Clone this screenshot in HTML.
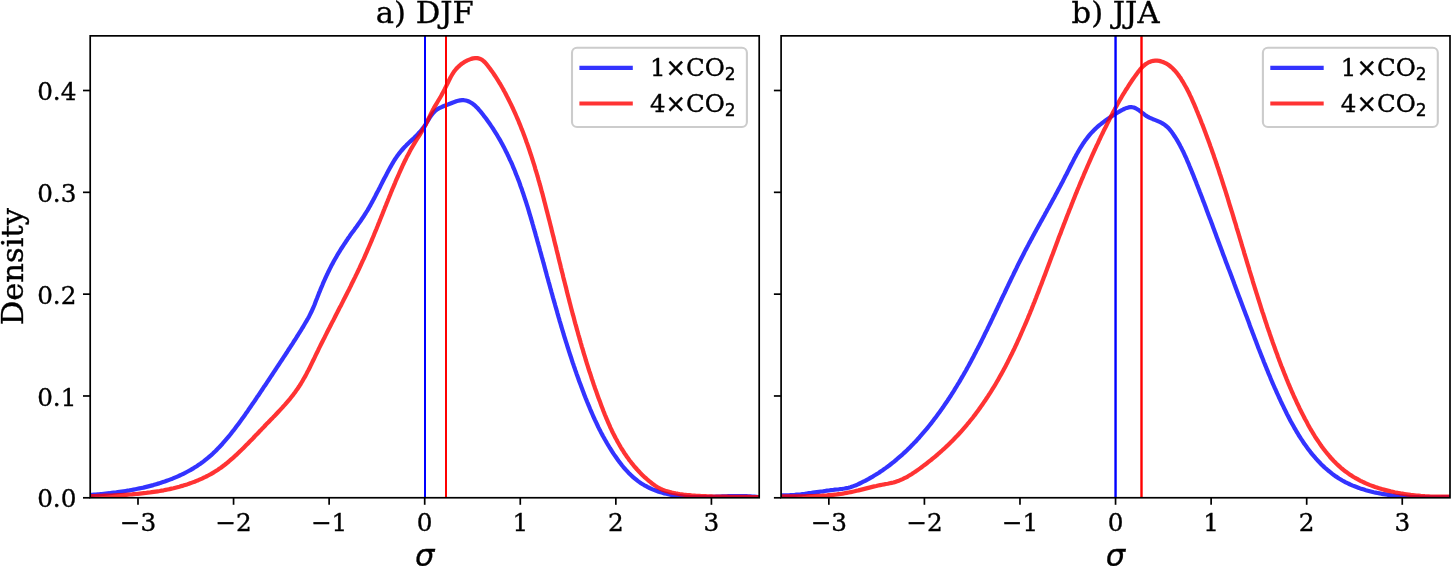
<!DOCTYPE html>
<html lang="en"><head><meta charset="utf-8"><title>Density of sigma, DJF and JJA</title>
<style>
html,body{margin:0;padding:0;background:#fff;}
body{width:1451px;height:566px;overflow:hidden;}
svg{display:block;}
text{font-family:'DejaVu Serif', 'Liberation Serif', serif;fill:#000;stroke:#000;stroke-width:0.35px;}
.tk{font-size:24.7px;}
.lg{font-size:24.5px;}
.ti{font-size:30.6px;}
.sn{font-family:'DejaVu Sans', 'Liberation Sans', sans-serif;}
</style></head><body>
<svg width="1451" height="566" viewBox="0 0 1451 566">
<rect width="1451" height="566" fill="#fff"/>
<g>
<clipPath id="c0"><rect x="90.2" y="35.85" width="669.0" height="461.95"/></clipPath>
<g clip-path="url(#c0)" fill="none" stroke-linejoin="round" stroke-linecap="square">
<path d="M90.2 494.9 L92.1 494.8 L94.0 494.6 L95.9 494.5 L97.9 494.3 L99.8 494.2 L101.8 494.0 L103.7 493.8 L105.7 493.6 L107.7 493.4 L109.7 493.2 L111.6 492.9 L113.6 492.7 L115.6 492.5 L117.6 492.2 L119.6 491.9 L121.6 491.6 L123.6 491.3 L125.6 491.0 L127.6 490.7 L129.5 490.4 L131.5 490.0 L133.5 489.6 L135.5 489.2 L137.5 488.8 L139.5 488.4 L141.5 488.0 L143.5 487.6 L145.4 487.1 L147.4 486.6 L149.4 486.1 L151.3 485.6 L153.3 485.1 L155.2 484.5 L157.2 483.9 L159.1 483.4 L161.0 482.7 L162.9 482.1 L164.8 481.5 L166.7 480.8 L168.6 480.1 L170.5 479.4 L172.4 478.7 L174.2 477.9 L176.1 477.1 L177.9 476.3 L179.7 475.5 L181.5 474.7 L183.3 473.8 L185.1 472.9 L186.8 472.0 L188.6 471.0 L190.3 470.1 L192.0 469.1 L193.7 468.1 L195.4 467.0 L197.1 465.9 L198.7 464.8 L200.4 463.7 L202.0 462.6 L203.6 461.4 L205.1 460.2 L206.7 458.9 L208.2 457.7 L209.7 456.4 L211.2 455.1 L212.7 453.7 L214.1 452.3 L215.6 451.0 L217.0 449.5 L218.4 448.1 L219.7 446.7 L221.1 445.2 L222.5 443.7 L223.8 442.2 L225.1 440.7 L226.4 439.1 L227.7 437.6 L229.0 436.1 L230.3 434.5 L231.5 432.9 L232.7 431.3 L234.0 429.8 L235.2 428.2 L236.4 426.6 L237.6 425.0 L238.8 423.4 L240.0 421.8 L241.2 420.1 L242.3 418.5 L243.5 416.9 L244.7 415.3 L245.8 413.6 L247.0 412.0 L248.1 410.4 L249.2 408.7 L250.4 407.1 L251.5 405.4 L252.6 403.8 L253.8 402.1 L254.9 400.5 L256.0 398.8 L257.1 397.1 L258.3 395.5 L259.4 393.8 L260.5 392.1 L261.6 390.5 L262.7 388.8 L263.8 387.1 L265.0 385.5 L266.1 383.8 L267.2 382.1 L268.3 380.5 L269.4 378.8 L270.5 377.1 L271.6 375.5 L272.7 373.8 L273.8 372.1 L274.9 370.5 L276.0 368.8 L277.1 367.1 L278.2 365.5 L279.3 363.8 L280.4 362.1 L281.5 360.5 L282.6 358.8 L283.7 357.1 L284.8 355.5 L285.9 353.8 L287.0 352.2 L288.0 350.5 L289.1 348.8 L290.2 347.2 L291.3 345.5 L292.4 343.9 L293.4 342.2 L294.5 340.5 L295.6 338.9 L296.6 337.2 L297.7 335.5 L298.7 333.8 L299.8 332.1 L300.9 330.4 L301.9 328.7 L303.0 327.0 L304.0 325.2 L305.0 323.5 L306.1 321.7 L307.1 319.9 L308.1 318.2 L309.1 316.4 L310.0 314.6 L310.9 312.8 L311.8 311.0 L312.6 309.1 L313.4 307.3 L314.2 305.5 L314.9 303.7 L315.6 301.8 L316.3 300.0 L317.1 298.1 L317.8 296.3 L318.5 294.5 L319.2 292.6 L320.0 290.8 L320.7 288.9 L321.5 287.1 L322.3 285.2 L323.0 283.4 L323.8 281.6 L324.7 279.7 L325.5 277.9 L326.3 276.1 L327.2 274.3 L328.0 272.5 L328.9 270.7 L329.8 268.9 L330.7 267.1 L331.6 265.3 L332.6 263.6 L333.5 261.8 L334.5 260.0 L335.5 258.3 L336.5 256.6 L337.5 254.8 L338.5 253.1 L339.6 251.4 L340.6 249.7 L341.7 248.0 L342.8 246.3 L343.9 244.6 L345.0 243.0 L346.1 241.3 L347.2 239.7 L348.3 238.0 L349.5 236.4 L350.6 234.7 L351.8 233.1 L353.0 231.5 L354.2 229.9 L355.3 228.3 L356.5 226.7 L357.7 225.0 L358.8 223.4 L360.0 221.8 L361.1 220.2 L362.2 218.5 L363.4 216.8 L364.4 215.2 L365.5 213.5 L366.5 211.8 L367.6 210.1 L368.6 208.4 L369.6 206.6 L370.6 204.9 L371.5 203.1 L372.5 201.4 L373.4 199.6 L374.4 197.9 L375.3 196.1 L376.2 194.3 L377.1 192.5 L378.1 190.7 L379.0 188.9 L379.9 187.2 L380.8 185.4 L381.7 183.6 L382.6 181.8 L383.5 180.0 L384.4 178.2 L385.4 176.4 L386.3 174.7 L387.2 172.9 L388.2 171.1 L389.1 169.4 L390.1 167.6 L391.1 165.9 L392.1 164.1 L393.1 162.4 L394.1 160.7 L395.2 159.0 L396.3 157.4 L397.4 155.8 L398.6 154.1 L399.8 152.6 L401.1 151.0 L402.4 149.5 L403.7 148.0 L405.1 146.6 L406.5 145.1 L407.9 143.7 L409.4 142.3 L410.9 140.9 L412.3 139.6 L413.8 138.2 L415.2 136.8 L416.6 135.4 L418.0 134.0 L419.3 132.5 L420.6 131.1 L421.9 129.5 L423.2 128.0 L424.3 126.3 L425.5 124.7 L426.5 122.9 L427.6 121.2 L428.7 119.4 L429.7 117.7 L430.8 116.0 L432.0 114.4 L433.2 112.9 L434.6 111.5 L436.0 110.2 L437.6 109.1 L439.2 108.2 L441.0 107.3 L442.8 106.5 L444.7 105.7 L446.6 105.0 L448.5 104.3 L450.5 103.5 L452.4 102.7 L454.4 102.0 L456.3 101.3 L458.2 100.8 L460.1 100.4 L462.1 100.2 L464.0 100.2 L465.8 100.5 L467.6 101.0 L469.4 101.7 L471.1 102.7 L472.8 103.8 L474.3 105.0 L475.8 106.4 L477.2 107.8 L478.6 109.3 L479.9 110.8 L481.2 112.4 L482.5 114.0 L483.7 115.6 L485.0 117.2 L486.2 118.8 L487.4 120.5 L488.5 122.1 L489.7 123.7 L490.8 125.4 L492.0 127.1 L493.1 128.7 L494.1 130.4 L495.2 132.1 L496.3 133.8 L497.3 135.5 L498.3 137.2 L499.3 138.9 L500.3 140.6 L501.3 142.4 L502.2 144.1 L503.2 145.9 L504.1 147.6 L505.0 149.4 L505.9 151.2 L506.8 152.9 L507.6 154.7 L508.5 156.5 L509.3 158.3 L510.1 160.1 L511.0 161.9 L511.8 163.7 L512.6 165.5 L513.3 167.4 L514.1 169.2 L514.9 171.0 L515.6 172.9 L516.3 174.7 L517.1 176.6 L517.8 178.4 L518.5 180.3 L519.2 182.1 L519.9 184.0 L520.5 185.9 L521.2 187.8 L521.9 189.6 L522.5 191.5 L523.2 193.4 L523.8 195.3 L524.4 197.2 L525.0 199.1 L525.7 201.0 L526.3 202.9 L526.9 204.8 L527.5 206.7 L528.1 208.6 L528.7 210.6 L529.2 212.5 L529.8 214.4 L530.4 216.3 L530.9 218.2 L531.5 220.2 L532.1 222.1 L532.6 224.0 L533.2 226.0 L533.7 227.9 L534.3 229.8 L534.8 231.7 L535.4 233.7 L535.9 235.6 L536.5 237.6 L537.0 239.5 L537.5 241.4 L538.1 243.4 L538.6 245.3 L539.2 247.2 L539.7 249.2 L540.2 251.1 L540.8 253.1 L541.3 255.0 L541.8 256.9 L542.4 258.9 L542.9 260.8 L543.4 262.7 L544.0 264.7 L544.5 266.6 L545.0 268.6 L545.5 270.5 L546.1 272.4 L546.6 274.4 L547.1 276.3 L547.7 278.3 L548.2 280.2 L548.7 282.1 L549.3 284.1 L549.8 286.0 L550.3 287.9 L550.9 289.9 L551.4 291.8 L552.0 293.8 L552.5 295.7 L553.0 297.6 L553.6 299.6 L554.1 301.5 L554.7 303.4 L555.2 305.3 L555.8 307.3 L556.3 309.2 L556.9 311.1 L557.4 313.1 L558.0 315.0 L558.5 316.9 L559.1 318.8 L559.6 320.8 L560.2 322.7 L560.8 324.6 L561.3 326.5 L561.9 328.4 L562.5 330.3 L563.1 332.3 L563.6 334.2 L564.2 336.1 L564.8 338.0 L565.4 339.9 L566.0 341.8 L566.6 343.7 L567.2 345.6 L567.8 347.5 L568.4 349.4 L569.0 351.3 L569.6 353.2 L570.2 355.1 L570.9 357.0 L571.5 358.9 L572.1 360.8 L572.7 362.7 L573.4 364.6 L574.0 366.4 L574.7 368.3 L575.3 370.2 L576.0 372.1 L576.6 373.9 L577.3 375.8 L578.0 377.7 L578.6 379.6 L579.3 381.4 L580.0 383.3 L580.7 385.1 L581.4 387.0 L582.1 388.8 L582.8 390.7 L583.5 392.5 L584.2 394.4 L584.9 396.2 L585.6 398.1 L586.4 399.9 L587.1 401.7 L587.9 403.6 L588.6 405.4 L589.4 407.2 L590.1 409.0 L590.9 410.9 L591.7 412.7 L592.5 414.5 L593.3 416.3 L594.1 418.1 L594.9 419.9 L595.8 421.7 L596.6 423.5 L597.5 425.3 L598.3 427.1 L599.2 428.9 L600.1 430.6 L601.0 432.4 L602.0 434.2 L602.9 436.0 L603.9 437.7 L604.9 439.5 L605.9 441.2 L606.9 443.0 L607.9 444.7 L609.0 446.5 L610.0 448.2 L611.1 449.9 L612.2 451.7 L613.3 453.4 L614.5 455.1 L615.7 456.8 L616.9 458.5 L618.1 460.2 L619.3 461.9 L620.6 463.5 L621.9 465.2 L623.2 466.8 L624.5 468.3 L625.9 469.9 L627.3 471.4 L628.7 472.9 L630.1 474.3 L631.6 475.7 L633.1 477.1 L634.6 478.4 L636.2 479.7 L637.7 480.9 L639.4 482.1 L641.0 483.2 L642.7 484.3 L644.4 485.3 L646.1 486.2 L647.8 487.1 L649.6 488.0 L651.4 488.8 L653.2 489.6 L655.0 490.3 L656.9 491.0 L658.7 491.7 L660.6 492.3 L662.5 492.8 L664.4 493.4 L666.4 493.8 L668.3 494.3 L670.3 494.7 L672.2 495.1 L674.2 495.4 L676.2 495.7 L678.1 496.0 L680.1 496.2 L682.1 496.4 L684.1 496.6 L686.1 496.8 L688.1 496.9 L690.1 497.0 L692.1 497.1 L694.2 497.1 L696.2 497.1 L698.2 497.2 L700.2 497.1 L702.2 497.1 L704.2 497.1 L706.2 497.0 L708.2 497.0 L710.3 496.9 L712.3 496.9 L714.3 496.8 L716.3 496.7 L718.3 496.6 L720.3 496.5 L722.4 496.4 L724.4 496.4 L726.4 496.3 L728.4 496.2 L730.4 496.2 L732.4 496.1 L734.4 496.1 L736.4 496.0 L738.4 496.0 L740.4 496.0 L742.4 496.1 L744.4 496.1 L746.4 496.2 L748.4 496.3 L750.4 496.4 L752.3 496.5 L754.3 496.7 L756.3 496.9 L758.2 497.1 L759.0 497.2" stroke="#0000ff" stroke-opacity="0.8" stroke-width="4.2"/>
<path d="M90.0 496.1 L92.0 496.1 L94.0 496.0 L96.0 496.0 L98.0 495.9 L100.0 495.9 L102.1 495.8 L104.1 495.7 L106.1 495.7 L108.1 495.6 L110.1 495.6 L112.0 495.5 L114.0 495.4 L116.0 495.3 L118.0 495.2 L120.0 495.1 L122.0 495.0 L124.0 494.9 L126.0 494.8 L128.0 494.6 L129.9 494.5 L131.9 494.4 L133.9 494.2 L135.9 494.0 L137.9 493.8 L139.9 493.6 L141.8 493.4 L143.8 493.2 L145.8 493.0 L147.8 492.7 L149.8 492.5 L151.8 492.2 L153.7 491.9 L155.7 491.6 L157.7 491.3 L159.7 491.0 L161.7 490.6 L163.7 490.3 L165.6 489.9 L167.6 489.5 L169.6 489.1 L171.5 488.6 L173.5 488.2 L175.5 487.7 L177.4 487.2 L179.4 486.7 L181.3 486.1 L183.2 485.6 L185.1 485.0 L187.1 484.4 L189.0 483.7 L190.8 483.1 L192.7 482.4 L194.6 481.7 L196.5 480.9 L198.3 480.2 L200.1 479.4 L202.0 478.6 L203.8 477.7 L205.5 476.9 L207.3 476.0 L209.1 475.0 L210.8 474.1 L212.5 473.1 L214.2 472.1 L215.9 471.0 L217.6 469.9 L219.2 468.8 L220.9 467.7 L222.5 466.5 L224.1 465.3 L225.7 464.0 L227.2 462.8 L228.8 461.5 L230.3 460.2 L231.8 458.9 L233.3 457.6 L234.8 456.2 L236.3 454.9 L237.7 453.5 L239.2 452.1 L240.6 450.7 L242.1 449.3 L243.5 447.9 L244.9 446.5 L246.3 445.1 L247.7 443.7 L249.1 442.2 L250.5 440.8 L251.9 439.4 L253.3 438.0 L254.6 436.5 L256.0 435.1 L257.4 433.7 L258.8 432.2 L260.1 430.8 L261.5 429.4 L262.9 427.9 L264.3 426.5 L265.6 425.0 L267.0 423.6 L268.4 422.2 L269.8 420.7 L271.2 419.3 L272.6 417.9 L274.0 416.4 L275.4 415.0 L276.8 413.5 L278.2 412.0 L279.5 410.6 L280.9 409.1 L282.3 407.6 L283.6 406.1 L285.0 404.6 L286.3 403.1 L287.6 401.6 L288.9 400.1 L290.2 398.6 L291.4 397.0 L292.7 395.4 L293.9 393.8 L295.1 392.2 L296.2 390.6 L297.4 389.0 L298.5 387.3 L299.6 385.7 L300.7 384.0 L301.7 382.3 L302.7 380.6 L303.7 378.8 L304.7 377.1 L305.7 375.4 L306.6 373.6 L307.5 371.8 L308.5 370.0 L309.4 368.2 L310.3 366.5 L311.1 364.7 L312.0 362.9 L312.9 361.0 L313.8 359.2 L314.7 357.4 L315.5 355.6 L316.4 353.8 L317.3 352.0 L318.2 350.2 L319.0 348.4 L319.9 346.6 L320.8 344.8 L321.7 343.0 L322.6 341.2 L323.5 339.4 L324.4 337.7 L325.3 335.9 L326.2 334.1 L327.1 332.3 L328.0 330.5 L328.9 328.7 L329.8 327.0 L330.7 325.2 L331.6 323.4 L332.6 321.6 L333.5 319.9 L334.4 318.1 L335.3 316.3 L336.2 314.5 L337.1 312.8 L338.0 311.0 L338.9 309.2 L339.8 307.4 L340.8 305.7 L341.7 303.9 L342.6 302.1 L343.5 300.3 L344.4 298.6 L345.3 296.8 L346.2 295.0 L347.1 293.2 L348.0 291.4 L348.9 289.7 L349.8 287.9 L350.7 286.1 L351.5 284.3 L352.4 282.5 L353.3 280.7 L354.2 278.9 L355.1 277.1 L355.9 275.4 L356.8 273.6 L357.7 271.8 L358.5 270.0 L359.4 268.1 L360.2 266.3 L361.1 264.5 L361.9 262.7 L362.7 260.9 L363.6 259.1 L364.4 257.3 L365.2 255.4 L366.0 253.6 L366.8 251.8 L367.6 249.9 L368.4 248.1 L369.2 246.2 L370.0 244.4 L370.8 242.5 L371.6 240.7 L372.3 238.8 L373.1 237.0 L373.9 235.1 L374.6 233.3 L375.4 231.4 L376.2 229.5 L376.9 227.7 L377.7 225.8 L378.4 223.9 L379.2 222.1 L379.9 220.2 L380.7 218.3 L381.4 216.5 L382.2 214.6 L382.9 212.7 L383.6 210.9 L384.4 209.0 L385.1 207.1 L385.9 205.3 L386.6 203.4 L387.4 201.6 L388.1 199.7 L388.9 197.8 L389.6 196.0 L390.4 194.1 L391.1 192.3 L391.9 190.4 L392.6 188.6 L393.4 186.8 L394.2 184.9 L395.0 183.1 L395.7 181.3 L396.5 179.4 L397.3 177.6 L398.1 175.8 L398.9 174.0 L399.7 172.2 L400.5 170.4 L401.3 168.6 L402.1 166.8 L402.9 165.0 L403.8 163.2 L404.6 161.5 L405.5 159.7 L406.4 157.9 L407.2 156.2 L408.2 154.4 L409.1 152.7 L410.0 150.9 L411.0 149.1 L412.0 147.4 L413.0 145.7 L414.1 143.9 L415.1 142.2 L416.2 140.4 L417.3 138.7 L418.5 136.9 L419.6 135.2 L420.6 133.5 L421.7 131.7 L422.7 130.0 L423.7 128.2 L424.7 126.5 L425.6 124.8 L426.4 123.0 L427.3 121.3 L428.1 119.5 L429.0 117.8 L429.8 116.1 L430.7 114.3 L431.6 112.6 L432.4 110.8 L433.4 109.1 L434.3 107.3 L435.3 105.6 L436.4 103.8 L437.5 102.0 L438.5 100.3 L439.6 98.5 L440.6 96.8 L441.6 95.0 L442.5 93.2 L443.5 91.4 L444.4 89.7 L445.3 87.9 L446.2 86.1 L447.1 84.3 L448.0 82.5 L448.8 80.8 L449.7 79.0 L450.6 77.2 L451.6 75.5 L452.6 73.8 L453.7 72.1 L454.9 70.5 L456.1 69.0 L457.5 67.5 L459.0 66.1 L460.5 64.7 L462.1 63.5 L463.8 62.4 L465.6 61.3 L467.4 60.4 L469.3 59.6 L471.2 58.9 L473.1 58.4 L475.1 58.2 L477.0 58.1 L478.8 58.4 L480.5 59.0 L482.1 59.9 L483.6 61.1 L485.0 62.4 L486.3 63.9 L487.6 65.5 L488.9 67.2 L490.1 68.8 L491.3 70.5 L492.5 72.1 L493.7 73.8 L494.8 75.5 L495.9 77.2 L497.0 78.9 L498.1 80.6 L499.1 82.3 L500.2 84.0 L501.2 85.7 L502.2 87.5 L503.2 89.2 L504.1 91.0 L505.1 92.7 L506.0 94.5 L506.9 96.3 L507.8 98.0 L508.7 99.8 L509.6 101.6 L510.5 103.4 L511.4 105.2 L512.2 107.0 L513.1 108.8 L513.9 110.6 L514.7 112.4 L515.5 114.2 L516.3 116.0 L517.1 117.9 L517.9 119.7 L518.7 121.5 L519.4 123.4 L520.2 125.2 L520.9 127.0 L521.6 128.9 L522.4 130.8 L523.1 132.6 L523.8 134.5 L524.5 136.3 L525.2 138.2 L525.9 140.1 L526.5 142.0 L527.2 143.8 L527.9 145.7 L528.5 147.6 L529.2 149.5 L529.8 151.4 L530.4 153.3 L531.1 155.2 L531.7 157.1 L532.3 159.0 L532.9 160.9 L533.5 162.8 L534.1 164.7 L534.7 166.6 L535.2 168.6 L535.8 170.5 L536.4 172.4 L537.0 174.3 L537.5 176.2 L538.1 178.2 L538.6 180.1 L539.2 182.0 L539.7 184.0 L540.3 185.9 L540.8 187.8 L541.3 189.8 L541.8 191.7 L542.4 193.6 L542.9 195.6 L543.4 197.5 L543.9 199.4 L544.4 201.4 L544.9 203.3 L545.4 205.3 L545.9 207.2 L546.4 209.2 L546.9 211.1 L547.4 213.1 L547.9 215.0 L548.4 216.9 L548.9 218.9 L549.4 220.8 L549.9 222.8 L550.4 224.7 L550.9 226.7 L551.4 228.6 L551.8 230.6 L552.3 232.5 L552.8 234.5 L553.3 236.4 L553.8 238.3 L554.2 240.3 L554.7 242.2 L555.2 244.2 L555.7 246.1 L556.2 248.1 L556.6 250.0 L557.1 252.0 L557.6 253.9 L558.1 255.8 L558.5 257.8 L559.0 259.7 L559.5 261.7 L560.0 263.6 L560.5 265.6 L560.9 267.5 L561.4 269.4 L561.9 271.4 L562.4 273.3 L562.9 275.3 L563.3 277.2 L563.8 279.1 L564.3 281.1 L564.8 283.0 L565.3 285.0 L565.8 286.9 L566.3 288.8 L566.7 290.8 L567.2 292.7 L567.7 294.6 L568.2 296.6 L568.7 298.5 L569.2 300.4 L569.7 302.4 L570.2 304.3 L570.7 306.2 L571.2 308.2 L571.7 310.1 L572.2 312.0 L572.7 314.0 L573.3 315.9 L573.8 317.8 L574.3 319.7 L574.8 321.7 L575.3 323.6 L575.9 325.5 L576.4 327.4 L576.9 329.4 L577.5 331.3 L578.0 333.2 L578.5 335.1 L579.1 337.0 L579.6 339.0 L580.2 340.9 L580.7 342.8 L581.3 344.7 L581.8 346.6 L582.4 348.5 L583.0 350.4 L583.5 352.4 L584.1 354.3 L584.7 356.2 L585.3 358.1 L585.8 360.0 L586.4 361.9 L587.0 363.8 L587.6 365.7 L588.2 367.6 L588.8 369.5 L589.4 371.4 L590.1 373.3 L590.7 375.2 L591.3 377.1 L591.9 379.0 L592.6 380.9 L593.2 382.8 L593.8 384.7 L594.5 386.6 L595.1 388.5 L595.8 390.3 L596.5 392.2 L597.1 394.1 L597.8 396.0 L598.5 397.9 L599.2 399.8 L599.9 401.6 L600.6 403.5 L601.3 405.4 L602.0 407.3 L602.7 409.1 L603.4 411.0 L604.2 412.9 L604.9 414.7 L605.7 416.6 L606.4 418.4 L607.2 420.2 L608.0 422.1 L608.8 423.9 L609.6 425.7 L610.4 427.6 L611.3 429.4 L612.1 431.2 L613.0 433.0 L613.9 434.7 L614.8 436.5 L615.7 438.3 L616.7 440.0 L617.6 441.8 L618.6 443.5 L619.6 445.2 L620.6 447.0 L621.6 448.7 L622.7 450.3 L623.7 452.0 L624.8 453.7 L626.0 455.3 L627.1 457.0 L628.3 458.6 L629.4 460.2 L630.7 461.8 L631.9 463.4 L633.2 464.9 L634.4 466.5 L635.8 468.0 L637.1 469.5 L638.5 471.0 L639.9 472.5 L641.3 473.9 L642.8 475.4 L644.2 476.8 L645.8 478.2 L647.3 479.5 L648.9 480.9 L650.5 482.2 L652.1 483.5 L653.8 484.7 L655.5 485.9 L657.2 487.0 L659.0 488.0 L660.7 488.9 L662.5 489.7 L664.3 490.4 L666.2 491.1 L668.0 491.6 L669.9 492.1 L671.8 492.6 L673.7 493.0 L675.6 493.4 L677.6 493.7 L679.5 494.1 L681.5 494.3 L683.4 494.6 L685.4 494.8 L687.4 495.0 L689.4 495.2 L691.4 495.4 L693.4 495.5 L695.4 495.7 L697.4 495.8 L699.4 495.9 L701.5 496.0 L703.5 496.1 L705.5 496.2 L707.5 496.3 L709.5 496.4 L711.6 496.4 L713.6 496.5 L715.6 496.5 L717.6 496.6 L719.7 496.6 L721.7 496.6 L723.7 496.7 L725.7 496.7 L727.8 496.7 L729.8 496.8 L731.8 496.8 L733.8 496.8 L735.8 496.8 L737.8 496.8 L739.8 496.8 L741.8 496.8 L743.8 496.9 L745.8 496.9 L747.8 496.9 L749.8 496.9 L751.7 497.0 L753.7 497.0 L755.7 497.0 L757.6 497.1 L759.0 497.1" stroke="#ff0000" stroke-opacity="0.8" stroke-width="4.2"/>
<line x1="425.0" x2="425.0" y1="35.85" y2="497.8" stroke="#0000ff" stroke-width="2.0"/>
<line x1="446.00" x2="446.00" y1="35.85" y2="497.8" stroke="#ff0000" stroke-width="2.0"/>
</g>
<line x1="137.99" x2="137.99" y1="497.8" y2="504.8" stroke="#000" stroke-width="1.7"/>
<text class="tk" x="137.99" y="530.8" text-anchor="middle">−3</text>
<line x1="233.56" x2="233.56" y1="497.8" y2="504.8" stroke="#000" stroke-width="1.7"/>
<text class="tk" x="233.56" y="530.8" text-anchor="middle">−2</text>
<line x1="329.13" x2="329.13" y1="497.8" y2="504.8" stroke="#000" stroke-width="1.7"/>
<text class="tk" x="329.13" y="530.8" text-anchor="middle">−1</text>
<line x1="424.70" x2="424.70" y1="497.8" y2="504.8" stroke="#000" stroke-width="1.7"/>
<text class="tk" x="424.70" y="530.8" text-anchor="middle">0</text>
<line x1="520.27" x2="520.27" y1="497.8" y2="504.8" stroke="#000" stroke-width="1.7"/>
<text class="tk" x="520.27" y="530.8" text-anchor="middle">1</text>
<line x1="615.84" x2="615.84" y1="497.8" y2="504.8" stroke="#000" stroke-width="1.7"/>
<text class="tk" x="615.84" y="530.8" text-anchor="middle">2</text>
<line x1="711.41" x2="711.41" y1="497.8" y2="504.8" stroke="#000" stroke-width="1.7"/>
<text class="tk" x="711.41" y="530.8" text-anchor="middle">3</text>
<line x1="83.0" x2="90.2" y1="497.80" y2="497.80" stroke="#000" stroke-width="1.7"/>
<text class="tk" x="76.4" y="507.40" text-anchor="end">0.0</text>
<line x1="83.0" x2="90.2" y1="395.98" y2="395.98" stroke="#000" stroke-width="1.7"/>
<text class="tk" x="76.4" y="405.58" text-anchor="end">0.1</text>
<line x1="83.0" x2="90.2" y1="294.15" y2="294.15" stroke="#000" stroke-width="1.7"/>
<text class="tk" x="76.4" y="303.75" text-anchor="end">0.2</text>
<line x1="83.0" x2="90.2" y1="192.33" y2="192.33" stroke="#000" stroke-width="1.7"/>
<text class="tk" x="76.4" y="201.93" text-anchor="end">0.3</text>
<line x1="83.0" x2="90.2" y1="90.50" y2="90.50" stroke="#000" stroke-width="1.7"/>
<text class="tk" x="76.4" y="100.10" text-anchor="end">0.4</text>
<rect x="90.2" y="35.85" width="669.0" height="461.9" fill="none" stroke="#000" stroke-width="1.7"/>
<text class="ti" x="424.70" y="23.4" text-anchor="middle">a) DJF</text>
<text class="ti sn" x="424.70" y="565.6" text-anchor="middle" font-style="italic">σ</text>
<rect x="572.0" y="47.7" width="174.9" height="79.3" rx="5" ry="5" fill="#fff" fill-opacity="0.8" stroke="#cccccc" stroke-width="2.1"/>
<line x1="579.4" x2="632.8" y1="67.8" y2="67.8" stroke="#0000ff" stroke-opacity="0.8" stroke-width="4.2"/>
<line x1="579.4" x2="632.8" y1="103.5" y2="103.5" stroke="#ff0000" stroke-opacity="0.8" stroke-width="4.2"/>
<text class="lg" x="649.9" y="76.1">1<tspan class="sn">×</tspan>CO<tspan class="sn" font-size="17px" dy="4">2</tspan></text>
<text class="lg" x="649.9" y="111.6">4<tspan class="sn">×</tspan>CO<tspan class="sn" font-size="17px" dy="4">2</tspan></text>
</g>
<g>
<clipPath id="c1"><rect x="781.1" y="35.85" width="668.9" height="461.95"/></clipPath>
<g clip-path="url(#c1)" fill="none" stroke-linejoin="round" stroke-linecap="square">
<path d="M781.1 495.4 L783.0 495.4 L785.0 495.4 L786.9 495.3 L788.9 495.3 L790.9 495.1 L792.8 495.0 L794.8 494.9 L796.8 494.7 L798.8 494.5 L800.8 494.3 L802.8 494.0 L804.8 493.8 L806.8 493.5 L808.9 493.2 L810.9 493.0 L812.9 492.7 L814.9 492.4 L816.9 492.1 L818.9 491.8 L820.9 491.5 L822.9 491.3 L824.9 491.0 L826.9 490.7 L828.9 490.5 L830.9 490.2 L832.9 490.0 L834.9 489.7 L836.8 489.5 L838.8 489.3 L840.7 489.0 L842.7 488.8 L844.6 488.5 L846.5 488.1 L848.5 487.7 L850.4 487.2 L852.3 486.6 L854.1 485.9 L856.0 485.2 L857.9 484.4 L859.7 483.5 L861.5 482.6 L863.3 481.7 L865.1 480.8 L866.9 479.8 L868.7 478.9 L870.4 477.9 L872.2 476.9 L873.9 475.8 L875.6 474.8 L877.3 473.7 L879.0 472.7 L880.6 471.5 L882.3 470.4 L883.9 469.3 L885.6 468.1 L887.2 466.9 L888.8 465.8 L890.4 464.5 L891.9 463.3 L893.5 462.1 L895.0 460.8 L896.6 459.5 L898.1 458.2 L899.6 456.9 L901.1 455.6 L902.6 454.3 L904.1 452.9 L905.5 451.6 L907.0 450.2 L908.4 448.8 L909.8 447.4 L911.2 446.0 L912.6 444.6 L914.0 443.1 L915.4 441.7 L916.8 440.2 L918.1 438.7 L919.5 437.2 L920.8 435.7 L922.1 434.2 L923.4 432.7 L924.7 431.2 L926.0 429.7 L927.3 428.1 L928.6 426.5 L929.8 425.0 L931.1 423.4 L932.3 421.8 L933.5 420.2 L934.7 418.6 L936.0 417.0 L937.1 415.4 L938.3 413.8 L939.5 412.2 L940.7 410.6 L941.8 408.9 L943.0 407.3 L944.1 405.6 L945.2 404.0 L946.4 402.3 L947.5 400.7 L948.6 399.0 L949.7 397.3 L950.8 395.7 L951.8 394.0 L952.9 392.3 L954.0 390.6 L955.0 388.9 L956.1 387.2 L957.1 385.5 L958.1 383.8 L959.2 382.1 L960.2 380.4 L961.2 378.6 L962.2 376.9 L963.2 375.2 L964.2 373.4 L965.2 371.7 L966.2 370.0 L967.1 368.2 L968.1 366.5 L969.1 364.7 L970.0 363.0 L971.0 361.2 L971.9 359.4 L972.8 357.7 L973.8 355.9 L974.7 354.1 L975.6 352.4 L976.5 350.6 L977.5 348.8 L978.4 347.0 L979.3 345.3 L980.2 343.5 L981.1 341.7 L982.0 339.9 L982.9 338.1 L983.8 336.3 L984.6 334.5 L985.5 332.7 L986.4 330.9 L987.3 329.2 L988.1 327.4 L989.0 325.6 L989.9 323.8 L990.8 322.0 L991.6 320.2 L992.5 318.3 L993.3 316.5 L994.2 314.7 L995.1 312.9 L995.9 311.1 L996.8 309.3 L997.6 307.5 L998.5 305.7 L999.3 303.9 L1000.2 302.1 L1001.0 300.3 L1001.9 298.5 L1002.7 296.7 L1003.6 294.9 L1004.5 293.1 L1005.3 291.3 L1006.2 289.5 L1007.0 287.7 L1007.9 285.9 L1008.7 284.1 L1009.6 282.3 L1010.5 280.5 L1011.3 278.7 L1012.2 276.9 L1013.1 275.1 L1013.9 273.3 L1014.8 271.5 L1015.7 269.7 L1016.6 267.9 L1017.4 266.1 L1018.3 264.3 L1019.2 262.6 L1020.1 260.8 L1021.0 259.0 L1021.9 257.2 L1022.8 255.5 L1023.7 253.7 L1024.6 251.9 L1025.5 250.1 L1026.5 248.4 L1027.4 246.6 L1028.3 244.9 L1029.2 243.1 L1030.2 241.4 L1031.1 239.6 L1032.1 237.9 L1033.0 236.1 L1033.9 234.4 L1034.9 232.6 L1035.8 230.9 L1036.8 229.1 L1037.7 227.4 L1038.7 225.6 L1039.7 223.9 L1040.6 222.1 L1041.6 220.4 L1042.5 218.7 L1043.5 216.9 L1044.5 215.2 L1045.4 213.4 L1046.4 211.7 L1047.3 209.9 L1048.3 208.2 L1049.3 206.4 L1050.2 204.7 L1051.2 202.9 L1052.1 201.2 L1053.1 199.4 L1054.1 197.7 L1055.0 195.9 L1056.0 194.1 L1056.9 192.4 L1057.9 190.6 L1058.8 188.8 L1059.8 187.0 L1060.7 185.3 L1061.6 183.5 L1062.6 181.7 L1063.5 179.9 L1064.4 178.1 L1065.3 176.3 L1066.3 174.5 L1067.2 172.7 L1068.1 170.9 L1069.0 169.1 L1069.9 167.3 L1070.8 165.5 L1071.7 163.7 L1072.7 161.9 L1073.6 160.1 L1074.5 158.3 L1075.5 156.5 L1076.4 154.7 L1077.4 153.0 L1078.4 151.2 L1079.4 149.5 L1080.4 147.8 L1081.5 146.1 L1082.6 144.4 L1083.7 142.7 L1084.8 141.1 L1086.0 139.5 L1087.2 137.9 L1088.4 136.4 L1089.6 134.9 L1090.9 133.4 L1092.3 131.9 L1093.7 130.5 L1095.1 129.1 L1096.5 127.8 L1098.0 126.4 L1099.5 125.1 L1101.1 123.9 L1102.7 122.6 L1104.3 121.4 L1105.9 120.2 L1107.6 119.1 L1109.2 117.9 L1110.9 116.8 L1112.6 115.7 L1114.4 114.6 L1116.1 113.5 L1117.8 112.5 L1119.6 111.4 L1121.4 110.4 L1123.1 109.5 L1124.9 108.6 L1126.7 107.9 L1128.5 107.4 L1130.3 107.2 L1132.1 107.2 L1133.8 107.5 L1135.6 108.2 L1137.3 109.2 L1139.0 110.3 L1140.7 111.6 L1142.4 113.0 L1144.2 114.3 L1145.9 115.6 L1147.6 116.6 L1149.4 117.6 L1151.2 118.4 L1153.0 119.2 L1154.8 119.9 L1156.6 120.6 L1158.4 121.4 L1160.2 122.2 L1162.0 123.1 L1163.7 124.1 L1165.3 125.3 L1166.8 126.5 L1168.3 127.9 L1169.6 129.4 L1170.9 131.0 L1172.1 132.6 L1173.3 134.3 L1174.4 136.0 L1175.5 137.7 L1176.6 139.4 L1177.6 141.1 L1178.6 142.9 L1179.6 144.6 L1180.5 146.4 L1181.4 148.1 L1182.3 149.9 L1183.2 151.6 L1184.0 153.4 L1184.8 155.2 L1185.7 157.0 L1186.5 158.8 L1187.2 160.6 L1188.0 162.4 L1188.8 164.2 L1189.5 166.0 L1190.3 167.9 L1191.0 169.7 L1191.8 171.5 L1192.5 173.4 L1193.3 175.2 L1194.0 177.1 L1194.7 178.9 L1195.5 180.8 L1196.2 182.6 L1196.9 184.5 L1197.7 186.4 L1198.4 188.2 L1199.1 190.1 L1199.8 192.0 L1200.6 193.9 L1201.3 195.7 L1202.0 197.6 L1202.7 199.5 L1203.4 201.4 L1204.2 203.3 L1204.9 205.2 L1205.6 207.1 L1206.3 209.0 L1207.0 210.9 L1207.7 212.8 L1208.4 214.7 L1209.1 216.5 L1209.8 218.4 L1210.6 220.3 L1211.3 222.2 L1212.0 224.1 L1212.7 226.0 L1213.4 227.9 L1214.1 229.8 L1214.8 231.7 L1215.5 233.6 L1216.2 235.5 L1216.9 237.4 L1217.6 239.3 L1218.3 241.2 L1219.0 243.1 L1219.7 244.9 L1220.4 246.8 L1221.1 248.7 L1221.8 250.6 L1222.5 252.5 L1223.2 254.4 L1223.9 256.2 L1224.6 258.1 L1225.3 260.0 L1226.0 261.9 L1226.7 263.7 L1227.4 265.6 L1228.1 267.5 L1228.8 269.3 L1229.6 271.2 L1230.3 273.1 L1231.0 274.9 L1231.7 276.8 L1232.4 278.7 L1233.1 280.5 L1233.8 282.4 L1234.4 284.2 L1235.1 286.1 L1235.8 288.0 L1236.5 289.8 L1237.2 291.7 L1237.9 293.5 L1238.6 295.4 L1239.3 297.2 L1240.0 299.1 L1240.7 301.0 L1241.4 302.8 L1242.1 304.7 L1242.8 306.5 L1243.5 308.4 L1244.2 310.2 L1244.9 312.1 L1245.6 313.9 L1246.3 315.8 L1247.0 317.6 L1247.7 319.5 L1248.4 321.3 L1249.1 323.2 L1249.7 325.0 L1250.4 326.9 L1251.1 328.7 L1251.8 330.6 L1252.5 332.4 L1253.2 334.3 L1253.9 336.1 L1254.6 337.9 L1255.3 339.8 L1256.0 341.6 L1256.7 343.5 L1257.4 345.3 L1258.1 347.2 L1258.8 349.0 L1259.6 350.9 L1260.3 352.7 L1261.0 354.6 L1261.7 356.4 L1262.5 358.3 L1263.2 360.1 L1263.9 362.0 L1264.7 363.8 L1265.4 365.7 L1266.2 367.5 L1266.9 369.4 L1267.7 371.2 L1268.4 373.1 L1269.2 374.9 L1270.0 376.8 L1270.7 378.6 L1271.5 380.5 L1272.3 382.3 L1273.1 384.2 L1273.9 386.0 L1274.7 387.9 L1275.6 389.7 L1276.4 391.6 L1277.2 393.4 L1278.1 395.3 L1278.9 397.2 L1279.8 399.0 L1280.6 400.9 L1281.5 402.7 L1282.4 404.6 L1283.3 406.4 L1284.2 408.3 L1285.1 410.2 L1286.0 412.0 L1286.9 413.9 L1287.9 415.7 L1288.8 417.5 L1289.8 419.4 L1290.7 421.2 L1291.7 423.0 L1292.7 424.8 L1293.7 426.6 L1294.7 428.4 L1295.8 430.2 L1296.8 432.0 L1297.9 433.7 L1298.9 435.5 L1300.0 437.2 L1301.1 438.9 L1302.3 440.6 L1303.4 442.3 L1304.5 444.0 L1305.7 445.6 L1306.9 447.3 L1308.1 448.9 L1309.3 450.5 L1310.5 452.1 L1311.7 453.6 L1313.0 455.2 L1314.3 456.7 L1315.6 458.2 L1316.9 459.6 L1318.2 461.1 L1319.6 462.5 L1320.9 463.9 L1322.3 465.3 L1323.7 466.6 L1325.2 468.0 L1326.6 469.2 L1328.1 470.5 L1329.6 471.7 L1331.1 472.9 L1332.6 474.1 L1334.2 475.3 L1335.8 476.4 L1337.4 477.4 L1339.0 478.5 L1340.7 479.5 L1342.3 480.5 L1344.0 481.4 L1345.7 482.3 L1347.5 483.2 L1349.2 484.0 L1351.0 484.8 L1352.8 485.6 L1354.6 486.3 L1356.5 487.0 L1358.3 487.7 L1360.2 488.4 L1362.1 489.0 L1364.0 489.6 L1365.9 490.2 L1367.8 490.7 L1369.7 491.2 L1371.7 491.7 L1373.7 492.2 L1375.6 492.6 L1377.6 493.0 L1379.6 493.4 L1381.6 493.8 L1383.6 494.1 L1385.6 494.4 L1387.6 494.8 L1389.7 495.0 L1391.7 495.3 L1393.7 495.5 L1395.8 495.8 L1397.8 496.0 L1399.9 496.2 L1401.9 496.3 L1404.0 496.5 L1406.0 496.6 L1408.1 496.8 L1410.1 496.9 L1412.2 497.0 L1414.2 497.1 L1416.2 497.1 L1418.3 497.2 L1420.3 497.3 L1422.3 497.3 L1424.3 497.3 L1426.4 497.3 L1428.4 497.3 L1430.3 497.3 L1432.3 497.3 L1434.3 497.3 L1436.3 497.3 L1438.2 497.3 L1440.2 497.3 L1442.1 497.2 L1444.0 497.2 L1445.9 497.2 L1447.8 497.1 L1449.6 497.1 L1450.0 497.1" stroke="#0000ff" stroke-opacity="0.8" stroke-width="4.2"/>
<path d="M781.0 496.3 L783.0 496.3 L785.1 496.3 L787.1 496.3 L789.1 496.3 L791.2 496.3 L793.2 496.3 L795.2 496.3 L797.2 496.3 L799.2 496.3 L801.2 496.3 L803.2 496.3 L805.2 496.3 L807.2 496.2 L809.2 496.2 L811.1 496.1 L813.1 496.1 L815.1 496.0 L817.1 495.9 L819.1 495.9 L821.0 495.8 L823.0 495.6 L825.0 495.5 L827.0 495.4 L828.9 495.2 L830.9 495.0 L832.9 494.8 L834.8 494.6 L836.8 494.4 L838.8 494.1 L840.7 493.9 L842.7 493.6 L844.7 493.2 L846.7 492.9 L848.6 492.5 L850.6 492.2 L852.6 491.7 L854.6 491.3 L856.5 490.8 L858.5 490.4 L860.5 489.9 L862.5 489.4 L864.5 488.9 L866.4 488.4 L868.4 487.9 L870.4 487.4 L872.3 486.9 L874.3 486.4 L876.3 486.0 L878.2 485.5 L880.1 485.1 L882.1 484.7 L884.0 484.4 L885.9 484.0 L887.8 483.7 L889.7 483.3 L891.6 482.9 L893.5 482.5 L895.3 481.9 L897.2 481.3 L899.0 480.7 L900.8 479.9 L902.6 479.1 L904.4 478.2 L906.2 477.3 L908.0 476.3 L909.7 475.3 L911.5 474.2 L913.2 473.1 L914.9 471.9 L916.6 470.8 L918.3 469.6 L920.0 468.4 L921.6 467.2 L923.3 465.9 L924.9 464.7 L926.6 463.5 L928.2 462.2 L929.8 460.9 L931.4 459.7 L932.9 458.4 L934.5 457.1 L936.0 455.8 L937.6 454.5 L939.1 453.2 L940.6 451.8 L942.1 450.5 L943.6 449.2 L945.1 447.8 L946.5 446.4 L948.0 445.1 L949.4 443.7 L950.8 442.3 L952.2 440.9 L953.6 439.5 L955.0 438.0 L956.4 436.6 L957.7 435.2 L959.1 433.7 L960.4 432.3 L961.7 430.8 L963.0 429.3 L964.3 427.8 L965.6 426.3 L966.9 424.8 L968.1 423.3 L969.4 421.8 L970.6 420.3 L971.9 418.7 L973.1 417.2 L974.3 415.6 L975.5 414.1 L976.6 412.5 L977.8 410.9 L979.0 409.3 L980.1 407.7 L981.3 406.1 L982.4 404.5 L983.5 402.9 L984.6 401.3 L985.7 399.7 L986.8 398.0 L987.9 396.4 L988.9 394.7 L990.0 393.1 L991.1 391.4 L992.1 389.7 L993.1 388.1 L994.2 386.4 L995.2 384.7 L996.2 383.0 L997.2 381.3 L998.2 379.6 L999.1 377.9 L1000.1 376.1 L1001.1 374.4 L1002.0 372.7 L1003.0 370.9 L1003.9 369.2 L1004.9 367.4 L1005.8 365.7 L1006.7 363.9 L1007.6 362.2 L1008.5 360.4 L1009.4 358.6 L1010.3 356.8 L1011.2 355.1 L1012.1 353.3 L1012.9 351.5 L1013.8 349.7 L1014.7 347.9 L1015.5 346.1 L1016.4 344.3 L1017.2 342.5 L1018.0 340.6 L1018.9 338.8 L1019.7 337.0 L1020.5 335.2 L1021.3 333.3 L1022.1 331.5 L1022.9 329.7 L1023.7 327.8 L1024.5 326.0 L1025.3 324.1 L1026.1 322.3 L1026.9 320.4 L1027.7 318.6 L1028.4 316.7 L1029.2 314.9 L1030.0 313.0 L1030.7 311.1 L1031.5 309.3 L1032.2 307.4 L1033.0 305.5 L1033.7 303.6 L1034.5 301.8 L1035.2 299.9 L1036.0 298.0 L1036.7 296.1 L1037.4 294.3 L1038.2 292.4 L1038.9 290.5 L1039.6 288.6 L1040.3 286.7 L1041.1 284.8 L1041.8 282.9 L1042.5 281.1 L1043.2 279.2 L1043.9 277.3 L1044.7 275.4 L1045.4 273.5 L1046.1 271.6 L1046.8 269.7 L1047.5 267.8 L1048.2 265.9 L1048.9 264.0 L1049.6 262.2 L1050.3 260.3 L1051.0 258.4 L1051.7 256.5 L1052.5 254.6 L1053.2 252.7 L1053.9 250.8 L1054.6 248.9 L1055.3 247.1 L1056.0 245.2 L1056.7 243.3 L1057.4 241.4 L1058.1 239.5 L1058.8 237.6 L1059.5 235.8 L1060.3 233.9 L1061.0 232.0 L1061.7 230.1 L1062.4 228.3 L1063.1 226.4 L1063.8 224.5 L1064.6 222.6 L1065.3 220.8 L1066.0 218.9 L1066.7 217.0 L1067.4 215.2 L1068.2 213.3 L1068.9 211.4 L1069.6 209.6 L1070.4 207.7 L1071.1 205.9 L1071.8 204.0 L1072.6 202.1 L1073.3 200.3 L1074.1 198.4 L1074.8 196.6 L1075.5 194.7 L1076.3 192.9 L1077.0 191.0 L1077.8 189.2 L1078.6 187.3 L1079.3 185.5 L1080.1 183.7 L1080.8 181.8 L1081.6 180.0 L1082.4 178.1 L1083.2 176.3 L1083.9 174.5 L1084.7 172.6 L1085.5 170.8 L1086.3 169.0 L1087.1 167.2 L1087.9 165.3 L1088.7 163.5 L1089.5 161.7 L1090.3 159.9 L1091.1 158.0 L1091.9 156.2 L1092.7 154.4 L1093.5 152.6 L1094.3 150.8 L1095.2 149.0 L1096.0 147.2 L1096.8 145.4 L1097.7 143.6 L1098.5 141.8 L1099.3 140.0 L1100.2 138.2 L1101.0 136.4 L1101.9 134.6 L1102.8 132.8 L1103.6 131.0 L1104.5 129.2 L1105.4 127.5 L1106.3 125.7 L1107.2 123.9 L1108.1 122.1 L1109.0 120.4 L1109.9 118.6 L1110.8 116.8 L1111.7 115.1 L1112.6 113.3 L1113.5 111.5 L1114.5 109.8 L1115.4 108.0 L1116.4 106.3 L1117.3 104.5 L1118.3 102.8 L1119.3 101.0 L1120.3 99.3 L1121.3 97.6 L1122.3 95.8 L1123.3 94.1 L1124.4 92.4 L1125.4 90.7 L1126.5 89.0 L1127.6 87.3 L1128.7 85.5 L1129.8 83.8 L1130.9 82.2 L1132.0 80.5 L1133.2 78.8 L1134.4 77.1 L1135.6 75.4 L1136.8 73.8 L1138.0 72.1 L1139.3 70.5 L1140.6 68.9 L1141.9 67.5 L1143.3 66.1 L1144.8 64.8 L1146.3 63.7 L1148.0 62.7 L1149.7 61.9 L1151.4 61.3 L1153.3 60.9 L1155.2 60.7 L1157.2 60.7 L1159.2 60.9 L1161.1 61.4 L1163.0 62.0 L1164.8 62.8 L1166.6 63.7 L1168.3 64.8 L1169.9 66.0 L1171.5 67.3 L1173.0 68.7 L1174.4 70.2 L1175.7 71.7 L1177.0 73.2 L1178.2 74.8 L1179.4 76.5 L1180.6 78.1 L1181.6 79.8 L1182.7 81.5 L1183.7 83.2 L1184.7 85.0 L1185.7 86.7 L1186.7 88.5 L1187.6 90.3 L1188.5 92.0 L1189.4 93.8 L1190.2 95.6 L1191.1 97.4 L1191.9 99.3 L1192.7 101.1 L1193.5 102.9 L1194.3 104.7 L1195.1 106.6 L1195.9 108.4 L1196.6 110.3 L1197.4 112.1 L1198.1 114.0 L1198.9 115.8 L1199.6 117.7 L1200.4 119.5 L1201.1 121.4 L1201.8 123.2 L1202.6 125.1 L1203.3 127.0 L1204.0 128.8 L1204.7 130.7 L1205.4 132.5 L1206.1 134.4 L1206.8 136.3 L1207.5 138.2 L1208.2 140.0 L1208.9 141.9 L1209.6 143.8 L1210.2 145.7 L1210.9 147.5 L1211.6 149.4 L1212.2 151.3 L1212.9 153.2 L1213.6 155.1 L1214.2 157.0 L1214.9 158.9 L1215.5 160.7 L1216.1 162.6 L1216.8 164.5 L1217.4 166.4 L1218.1 168.3 L1218.7 170.2 L1219.3 172.1 L1219.9 174.0 L1220.6 175.9 L1221.2 177.8 L1221.8 179.7 L1222.4 181.6 L1223.0 183.5 L1223.6 185.4 L1224.2 187.3 L1224.9 189.3 L1225.5 191.2 L1226.1 193.1 L1226.7 195.0 L1227.3 196.9 L1227.9 198.8 L1228.4 200.7 L1229.0 202.6 L1229.6 204.6 L1230.2 206.5 L1230.8 208.4 L1231.4 210.3 L1232.0 212.2 L1232.6 214.1 L1233.2 216.1 L1233.7 218.0 L1234.3 219.9 L1234.9 221.8 L1235.5 223.7 L1236.1 225.7 L1236.6 227.6 L1237.2 229.5 L1237.8 231.4 L1238.4 233.3 L1239.0 235.3 L1239.5 237.2 L1240.1 239.1 L1240.7 241.0 L1241.3 242.9 L1241.8 244.9 L1242.4 246.8 L1243.0 248.7 L1243.6 250.6 L1244.1 252.6 L1244.7 254.5 L1245.3 256.4 L1245.9 258.3 L1246.4 260.2 L1247.0 262.2 L1247.6 264.1 L1248.2 266.0 L1248.8 267.9 L1249.3 269.8 L1249.9 271.8 L1250.5 273.7 L1251.1 275.6 L1251.7 277.5 L1252.3 279.4 L1252.8 281.3 L1253.4 283.3 L1254.0 285.2 L1254.6 287.1 L1255.2 289.0 L1255.8 290.9 L1256.4 292.8 L1257.0 294.7 L1257.6 296.6 L1258.2 298.5 L1258.8 300.4 L1259.4 302.3 L1260.0 304.2 L1260.6 306.2 L1261.2 308.1 L1261.8 310.0 L1262.4 311.9 L1263.1 313.7 L1263.7 315.6 L1264.3 317.5 L1264.9 319.4 L1265.5 321.3 L1266.2 323.2 L1266.8 325.1 L1267.4 327.0 L1268.1 328.9 L1268.7 330.8 L1269.4 332.6 L1270.0 334.5 L1270.7 336.4 L1271.3 338.3 L1272.0 340.2 L1272.6 342.0 L1273.3 343.9 L1274.0 345.8 L1274.6 347.6 L1275.3 349.5 L1276.0 351.4 L1276.7 353.2 L1277.4 355.1 L1278.0 357.0 L1278.7 358.8 L1279.4 360.7 L1280.1 362.5 L1280.8 364.4 L1281.5 366.2 L1282.3 368.1 L1283.0 369.9 L1283.7 371.7 L1284.4 373.6 L1285.2 375.4 L1285.9 377.3 L1286.6 379.1 L1287.4 380.9 L1288.1 382.7 L1288.9 384.6 L1289.7 386.4 L1290.4 388.2 L1291.2 390.0 L1292.0 391.9 L1292.8 393.7 L1293.6 395.5 L1294.4 397.3 L1295.3 399.1 L1296.1 400.9 L1296.9 402.7 L1297.8 404.5 L1298.7 406.4 L1299.5 408.2 L1300.4 410.0 L1301.3 411.8 L1302.2 413.6 L1303.2 415.4 L1304.1 417.2 L1305.0 419.0 L1306.0 420.8 L1307.0 422.6 L1307.9 424.4 L1308.9 426.2 L1309.9 428.0 L1311.0 429.8 L1312.0 431.5 L1313.1 433.3 L1314.1 435.0 L1315.2 436.8 L1316.3 438.5 L1317.5 440.2 L1318.6 441.9 L1319.8 443.6 L1320.9 445.3 L1322.1 447.0 L1323.3 448.6 L1324.6 450.2 L1325.8 451.8 L1327.1 453.4 L1328.4 454.9 L1329.7 456.5 L1331.0 458.0 L1332.4 459.5 L1333.7 460.9 L1335.1 462.3 L1336.5 463.7 L1338.0 465.1 L1339.4 466.4 L1340.9 467.8 L1342.4 469.0 L1344.0 470.3 L1345.5 471.5 L1347.1 472.6 L1348.7 473.8 L1350.3 474.9 L1352.0 475.9 L1353.6 477.0 L1355.3 478.0 L1357.1 478.9 L1358.8 479.9 L1360.5 480.8 L1362.3 481.7 L1364.1 482.5 L1365.9 483.3 L1367.7 484.1 L1369.5 484.9 L1371.4 485.6 L1373.3 486.3 L1375.1 487.0 L1377.0 487.6 L1378.9 488.2 L1380.9 488.8 L1382.8 489.4 L1384.7 489.9 L1386.7 490.4 L1388.6 490.9 L1390.6 491.4 L1392.6 491.8 L1394.5 492.3 L1396.5 492.7 L1398.5 493.0 L1400.5 493.4 L1402.5 493.7 L1404.5 494.0 L1406.5 494.3 L1408.6 494.6 L1410.6 494.9 L1412.6 495.1 L1414.6 495.3 L1416.6 495.5 L1418.6 495.7 L1420.7 495.9 L1422.7 496.0 L1424.7 496.2 L1426.7 496.3 L1428.7 496.4 L1430.7 496.5 L1432.7 496.6 L1434.7 496.6 L1436.7 496.7 L1438.6 496.7 L1440.6 496.7 L1442.6 496.7 L1444.5 496.7 L1446.5 496.7 L1448.4 496.7 L1449.9 496.7" stroke="#ff0000" stroke-opacity="0.8" stroke-width="4.2"/>
<line x1="1115.55" x2="1115.55" y1="35.85" y2="497.8" stroke="#0000ff" stroke-width="2.4"/>
<line x1="1141.50" x2="1141.50" y1="35.85" y2="497.8" stroke="#ff0000" stroke-width="2.4"/>
</g>
<line x1="828.84" x2="828.84" y1="497.8" y2="504.8" stroke="#000" stroke-width="1.7"/>
<text class="tk" x="828.84" y="530.8" text-anchor="middle">−3</text>
<line x1="924.41" x2="924.41" y1="497.8" y2="504.8" stroke="#000" stroke-width="1.7"/>
<text class="tk" x="924.41" y="530.8" text-anchor="middle">−2</text>
<line x1="1019.98" x2="1019.98" y1="497.8" y2="504.8" stroke="#000" stroke-width="1.7"/>
<text class="tk" x="1019.98" y="530.8" text-anchor="middle">−1</text>
<line x1="1115.55" x2="1115.55" y1="497.8" y2="504.8" stroke="#000" stroke-width="1.7"/>
<text class="tk" x="1115.55" y="530.8" text-anchor="middle">0</text>
<line x1="1211.12" x2="1211.12" y1="497.8" y2="504.8" stroke="#000" stroke-width="1.7"/>
<text class="tk" x="1211.12" y="530.8" text-anchor="middle">1</text>
<line x1="1306.69" x2="1306.69" y1="497.8" y2="504.8" stroke="#000" stroke-width="1.7"/>
<text class="tk" x="1306.69" y="530.8" text-anchor="middle">2</text>
<line x1="1402.26" x2="1402.26" y1="497.8" y2="504.8" stroke="#000" stroke-width="1.7"/>
<text class="tk" x="1402.26" y="530.8" text-anchor="middle">3</text>
<line x1="773.9" x2="781.1" y1="497.80" y2="497.80" stroke="#000" stroke-width="1.7"/>
<line x1="773.9" x2="781.1" y1="395.98" y2="395.98" stroke="#000" stroke-width="1.7"/>
<line x1="773.9" x2="781.1" y1="294.15" y2="294.15" stroke="#000" stroke-width="1.7"/>
<line x1="773.9" x2="781.1" y1="192.33" y2="192.33" stroke="#000" stroke-width="1.7"/>
<line x1="773.9" x2="781.1" y1="90.50" y2="90.50" stroke="#000" stroke-width="1.7"/>
<rect x="781.1" y="35.85" width="668.9" height="461.9" fill="none" stroke="#000" stroke-width="1.7"/>
<text class="ti" x="1115.55" y="23.4" text-anchor="middle">b) JJA</text>
<text class="ti sn" x="1115.55" y="565.6" text-anchor="middle" font-style="italic">σ</text>
<rect x="1262.9" y="47.7" width="174.9" height="79.3" rx="5" ry="5" fill="#fff" fill-opacity="0.8" stroke="#cccccc" stroke-width="2.1"/>
<line x1="1270.3" x2="1323.7" y1="67.8" y2="67.8" stroke="#0000ff" stroke-opacity="0.8" stroke-width="4.2"/>
<line x1="1270.3" x2="1323.7" y1="103.5" y2="103.5" stroke="#ff0000" stroke-opacity="0.8" stroke-width="4.2"/>
<text class="lg" x="1340.8" y="76.1">1<tspan class="sn">×</tspan>CO<tspan class="sn" font-size="17px" dy="4">2</tspan></text>
<text class="lg" x="1340.8" y="111.6">4<tspan class="sn">×</tspan>CO<tspan class="sn" font-size="17px" dy="4">2</tspan></text>
</g>
<text class="ti" transform="translate(23.3 266.6) rotate(-90)" text-anchor="middle">Density</text>
</svg></body></html>
